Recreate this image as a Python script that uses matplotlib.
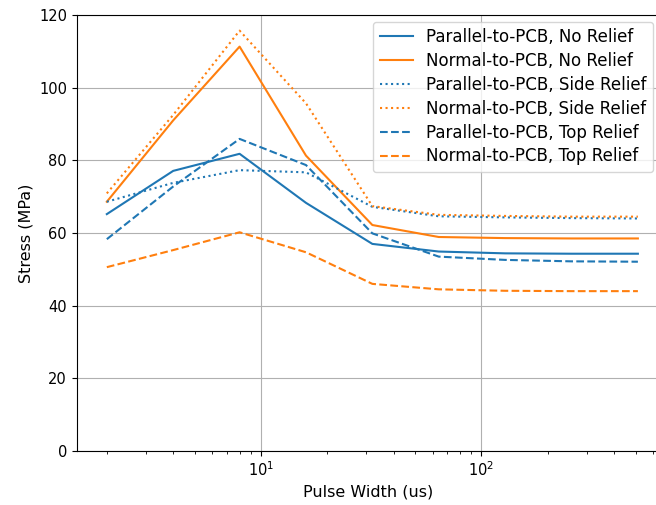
import numpy as np
import matplotlib
matplotlib.use("Agg")
import matplotlib.pyplot as plt

# Pulse widths (us) and measured stress (MPa)
pulse_width = [2, 4, 8, 16, 32, 64, 128, 256, 512]

par_no_relief = [65.2, 77.1, 81.8, 68.3, 57.0, 54.9, 54.4, 54.3, 54.3]
nor_no_relief = [68.6, 91.0, 111.3, 81.3, 62.2, 58.9, 58.6, 58.5, 58.5]
par_side_relief = [68.6, 73.8, 77.3, 76.7, 67.2, 64.6, 64.3, 64.1, 64.0]
nor_side_relief = [70.9, 92.5, 115.7, 95.7, 67.4, 65.0, 64.7, 64.5, 64.5]
par_top_relief = [58.3, 72.8, 85.9, 78.7, 59.9, 53.5, 52.6, 52.2, 52.1]
nor_top_relief = [50.6, 55.3, 60.2, 54.7, 46.0, 44.5, 44.1, 44.0, 44.0]

plt.rcParams['xtick.labelsize'] = 10.5
plt.rcParams['ytick.labelsize'] = 10.5
plt.rcParams['axes.labelsize'] = 11.5

fig = plt.figure(figsize=(6.56, 5.05), dpi=100)
# axes runs past the right edge of the picture, as in the cropped original
ax = fig.add_axes([0.1169, 0.1069, 0.8892, 0.8634])

ax.plot(pulse_width, par_no_relief, color='C0', linestyle='-', label="Parallel-to-PCB, No Relief")
ax.plot(pulse_width, nor_no_relief, color='C1', linestyle='-', label="Normal-to-PCB, No Relief")
ax.plot(pulse_width, par_side_relief, color='C0', linestyle=':', label="Parallel-to-PCB, Side Relief")
ax.plot(pulse_width, nor_side_relief, color='C1', linestyle=':', label="Normal-to-PCB, Side Relief")
ax.plot(pulse_width, par_top_relief, color='C0', linestyle='--', label="Parallel-to-PCB, Top Relief")
ax.plot(pulse_width, nor_top_relief, color='C1', linestyle='--', label="Normal-to-PCB, Top Relief")

ax.set_xscale('log')
ax.set_xlim(1.46, 645)
ax.set_ylim(0, 120)
ax.set_xlabel("Pulse Width (us)")
ax.set_ylabel("Stress (MPa)")
ax.grid(True)
ax.legend(loc='upper right', fontsize=12, borderaxespad=0.4, labelspacing=0.35)

fig.savefig("out.png", dpi=100)
